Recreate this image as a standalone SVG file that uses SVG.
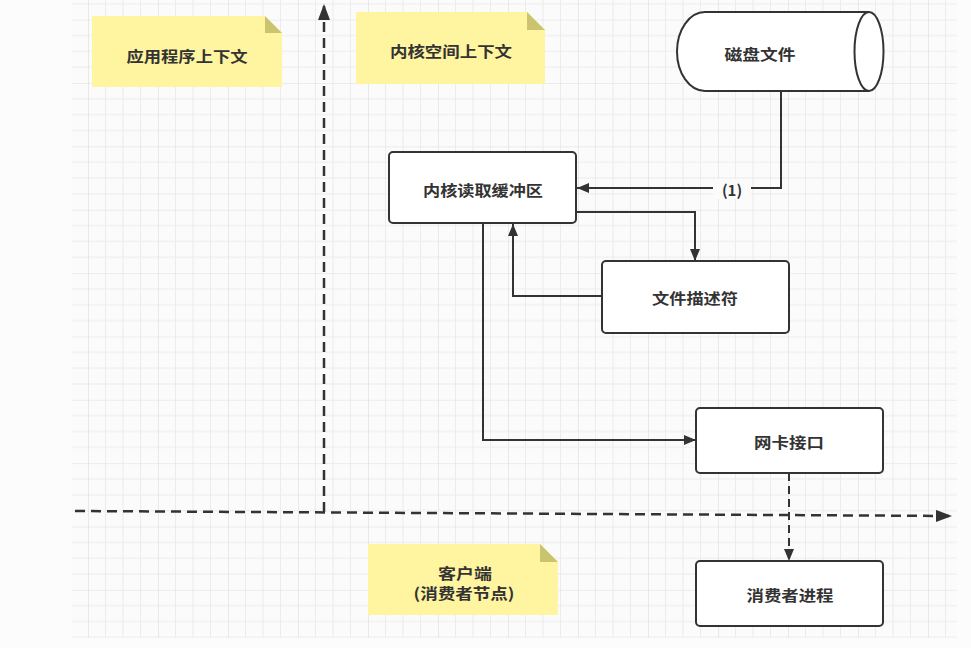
<svg xmlns="http://www.w3.org/2000/svg" width="971" height="648" viewBox="0 0 971 648">
<style>
.box{fill:#ffffff;stroke:#333333;stroke-width:2}
.note{fill:#fff5a0}
.fold{fill:#cbc46e}
.lbl{font-family:"Noto Sans CJK SC","Noto Sans",sans-serif;font-weight:bold;font-size:15px;fill:#333333;text-anchor:middle;dominant-baseline:central}
.conn{fill:none;stroke:#333333;stroke-width:2}
.dash{fill:none;stroke:#333333;stroke-width:2.5;stroke-dasharray:10 6}
</style>
<defs>
<pattern id="grid" patternUnits="userSpaceOnUse" x="18" y="19.64" width="70" height="63.36">
<path d="M17.5,0V63.36M35,0V63.36M52.5,0V63.36M0,15.84H70M0,31.68H70M0,47.52H70" stroke="#ececec" stroke-width="1" fill="none"/>
<path d="M0,0V63.36M0,0H70" stroke="#dedede" stroke-width="1.2" fill="none"/>
</pattern>
<marker id="arr" viewBox="0 0 12 10" refX="12" refY="5" markerWidth="12" markerHeight="10" markerUnits="userSpaceOnUse" orient="auto">
<path d="M0,0L12,5L0,10Z" fill="#333333" stroke="none"/>
</marker>
<marker id="arrBig" viewBox="0 0 16 12" refX="16" refY="6" markerWidth="16" markerHeight="12" markerUnits="userSpaceOnUse" orient="auto">
<path d="M0,0L16,6L0,12Z" fill="#333333" stroke="none"/>
</marker>
</defs>
<rect x="0" y="0" width="971" height="648" fill="#fcfcfc"/>
<rect x="72" y="0" width="885" height="638" fill="#fbfbfb"/>
<rect x="72" y="0" width="885" height="638" fill="url(#grid)"/>

<g id="connectors">
<path class="dash" d="M324,512V4" marker-end="url(#arrBig)"/>
<path class="dash" d="M75,511L952,516" marker-end="url(#arrBig)"/>
<path class="conn" d="M781,91V188H577" marker-end="url(#arr)"/>
<rect x="713" y="179" width="38" height="20" fill="#fbfbfb"/>
<text class="lbl" x="732" y="189" font-size="14">(1)</text>
<path class="conn" d="M576,212H695V261" marker-end="url(#arr)"/>
<path class="conn" d="M602,296H513V224" marker-end="url(#arr)"/>
<path class="conn" d="M483,223V440H696" marker-end="url(#arr)"/>
<path class="conn" d="M789,473V561" stroke-dasharray="8 5" marker-end="url(#arr)"/>
</g>

<g id="note-app">
<path class="note" d="M92,16H265L282,33V87H92Z"/>
<path class="fold" d="M265,16L282,33H265Z"/>
<text class="lbl" x="187" y="55" textLength="121" lengthAdjust="spacingAndGlyphs">应用程序上下文</text>
</g>

<g id="note-kernel">
<path class="note" d="M356,12H527L545,30V84H356Z"/>
<path class="fold" d="M527,12L545,30H527Z"/>
<text class="lbl" x="451" y="50" textLength="122" lengthAdjust="spacingAndGlyphs">内核空间上下文</text>
</g>

<g id="note-client">
<path class="note" d="M368,544H540L558,562V615H368Z"/>
<path class="fold" d="M540,544L558,562H540Z"/>
<text class="lbl" x="465" y="572" textLength="54" lengthAdjust="spacingAndGlyphs">客户端</text>
<text class="lbl" x="464" y="592" textLength="101" lengthAdjust="spacingAndGlyphs">(消费者节点)</text>
</g>

<g id="disk">
<path class="box" d="M705,12H869A14.5,39.5 0 0 1 869,91H705A28,39.5 0 0 1 705,12Z"/>
<path class="box" d="M869,12A14.5,39.5 0 0 0 869,91" fill="none"/>
<text class="lbl" x="760" y="53" textLength="71" lengthAdjust="spacingAndGlyphs">磁盘文件</text>
</g>

<g id="kernel-buffer">
<rect class="box" x="389" y="152" width="187" height="71" rx="4"/>
<text class="lbl" x="483" y="189" textLength="120" lengthAdjust="spacingAndGlyphs">内核读取缓冲区</text>
</g>

<g id="fd">
<rect class="box" x="602" y="261" width="187" height="72" rx="4"/>
<text class="lbl" x="695" y="297" textLength="86" lengthAdjust="spacingAndGlyphs">文件描述符</text>
</g>

<g id="nic">
<rect class="box" x="696" y="408" width="187" height="65" rx="4"/>
<text class="lbl" x="789" y="441" textLength="70" lengthAdjust="spacingAndGlyphs">网卡接口</text>
</g>

<g id="consumer">
<rect class="box" x="696" y="561" width="187" height="65" rx="4"/>
<text class="lbl" x="790" y="594" textLength="87" lengthAdjust="spacingAndGlyphs">消费者进程</text>
</g>
</svg>
